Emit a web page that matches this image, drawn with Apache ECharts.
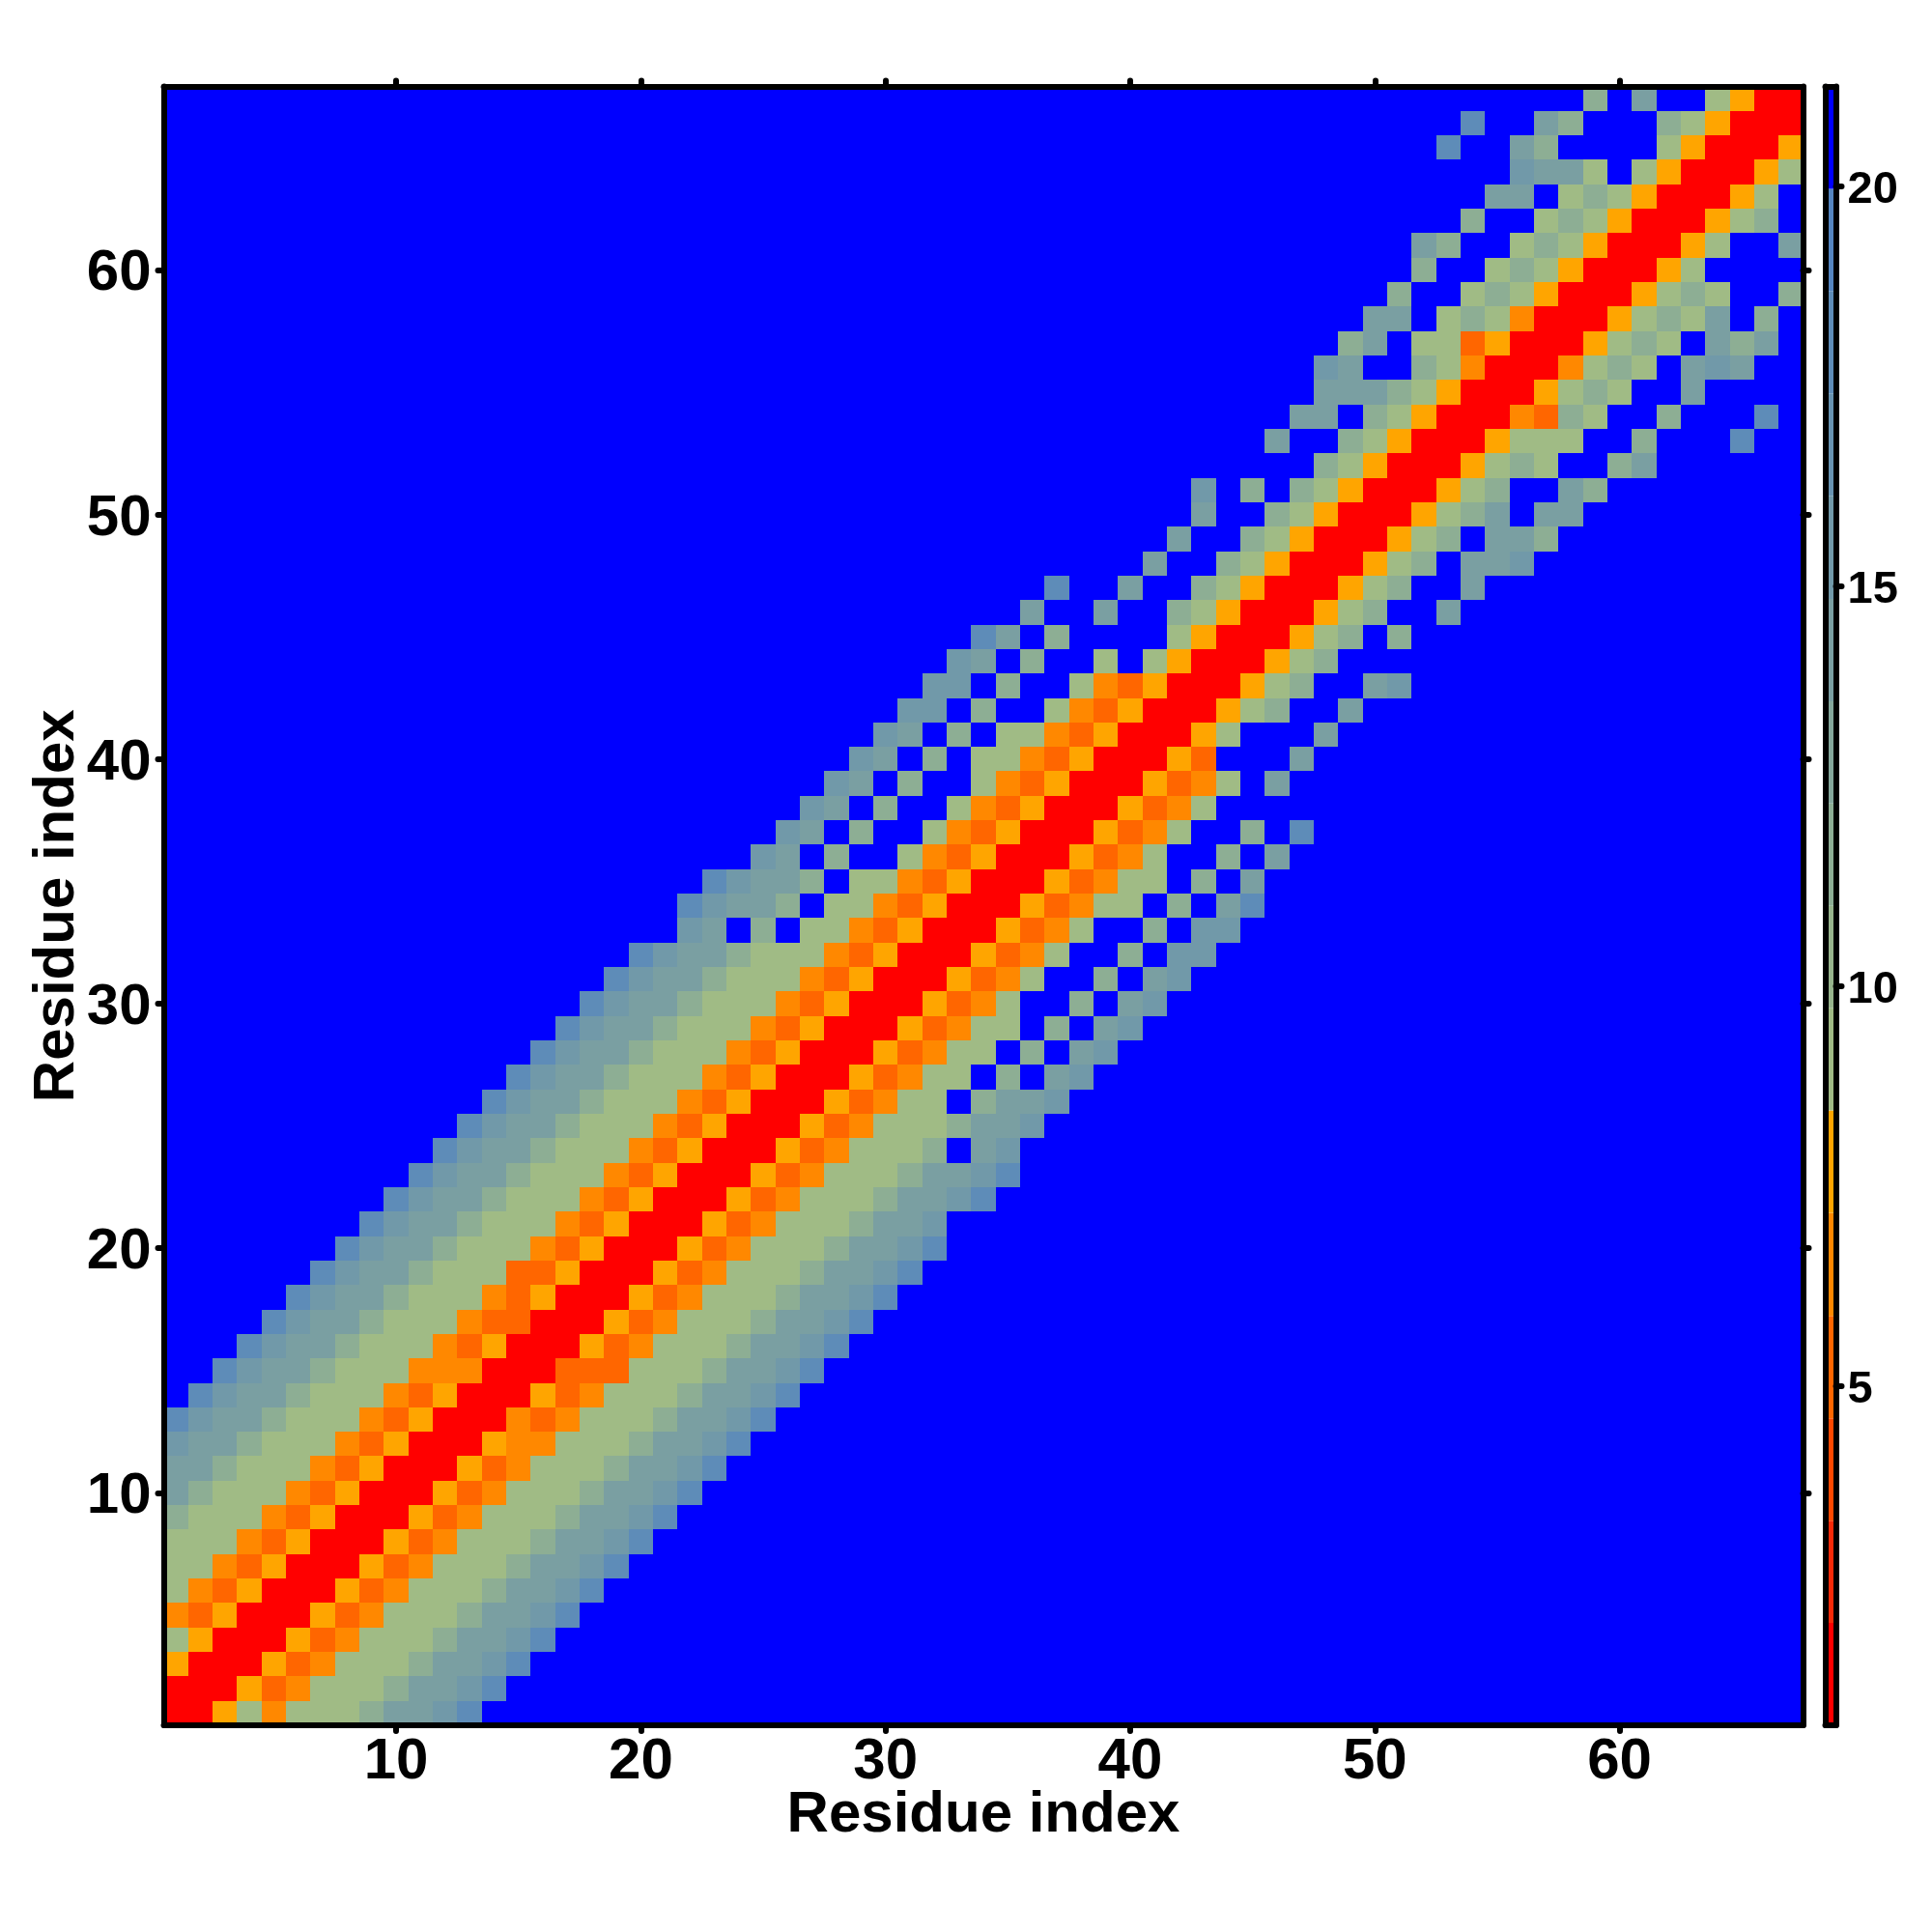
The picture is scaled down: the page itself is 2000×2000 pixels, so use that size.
<!DOCTYPE html>
<html>
<head>
<meta charset="utf-8">
<style>html,body{margin:0;padding:0;background:#fff}#c{width:2000px;height:2000px}</style>
<script src="https://cdn.jsdelivr.net/npm/echarts@6/dist/echarts.min.js"></script>
</head>
<body>
<div id="c"></div>
<script>
// Residue pair codes, one string per residue i: characters give d(i,i), d(i,i+1), ...
// Beyond the end of a string, and at '.', the pair is above the colour scale's last break.
const rowCodes = [
"RRAsOsssgmmtb","RRATOsssgmmtb","RRATOsssgmmtb","RRATOsssgmmtb","RRATOsssgmmtb",
"RRATOsssgmmtb","RRATOsssgmmtb","RRATOsssgmmtb","RRATOsssgmmtb","RRATOsssgmmtb",
"RRATOsssgmmtb","RRAOOsssgmmtb","RROTOsssgmmtb","RRATOsssgmmtb","RRTTTsssgmmtb",
"RRATOsssgmmtb","RRATOsssgmmtb","RRATOsssgmmtb","RRATOsssgmmtb","RRATOsssgmmtb",
"RRATOsssgmmt","RRATOsssgmmtb","RRATOsssgmmtb","RRATOsssg.mt","RRATOsssgmmt",
"RRATOss.gmmt","RRATOss.g.mt","RRATOss.g.mt","RRATOss.g.mt","RRATOs..g.mt",
"RRATOs..g.mt","RRATOs..g.tt","RRATOs..g.tt","RRATOss.g.mb","RRATOss.g.m",
"RRATOs..g.m","RRATOs..g.b","RRATOs","RRATOs.m","RRAT...m",
"RRAs...m","RRAsg..m","RRAsg..mt","RRAsg","RRAsg.g",
"RRAsg..m","RRAsg..m","RRAsg.mmt","RRAsg.mmg","RRAsgm.mm",
"RRAsg..mg","RRAsgs..gm","RRAsss..g...b","RROTgs..g...b","RRAsgs..m",
"RROsgs.mtm","RRAsgs.mgm","RRAsgsm.g","RRAsgs..g","RRAs",
"RRAs..m","RRAsg","RRAs","RRAs","RRA",
"RR","R"
];
const residues = rowCodes.map((_, i) => String(i + 1));
const tickValues = [10, 20, 30, 40, 50, 60];
const barTicks = [5, 10, 15, 20];
const levelEdges = [0.75,2.03,3.31,4.59,5.87,7.16,8.44,9.72,11,12.28,13.56,14.84,16.13,17.41,18.69,19.97,21.25];
const levelColors = ["#ff0000","#f92a08","#ff4800","#ff6600","#ff8800","#ffa500",
  "#a0bb85","#97b48c","#8dae94","#84a79b","#7a9fa2","#7199a9","#6893b1","#5e8cb8","#5585c0","#0000ff"];
const codeLevel = {R:0,T:3,O:4,A:5,s:6,g:8,m:10,t:11,b:13,".":15};
const FONT = '"Liberation Sans", Arial, sans-serif';

const levelValue = l => (levelEdges[l] + levelEdges[l + 1]) / 2;
const cells = [];
const n = rowCodes.length;
for (let i = 0; i < n; i++) for (let j = 0; j < n; j++) {
  const a = Math.min(i, j), off = Math.abs(i - j);
  const code = rowCodes[a][off] || ".";
  cells.push([i, j, levelValue(codeLevel[code])]);
}
const isTick = (idx, val) => tickValues.includes(+val);
const frame = {show:true, onZero:false, lineStyle:{color:"#000", width:6, cap:"round"}};
const tick = {show:true, length:6, interval:isTick, alignWithLabel:true, lineStyle:{color:"#000", width:6, cap:"round"}};
const labelStyle = {color:"#000", fontFamily:FONT, fontWeight:"bold", fontSize:60};
const shifted = size => ({
  formatter:"{v|{value}}",
  rich:{v:{padding:[9,0,0,0], color:"#000", fontFamily:FONT, fontWeight:"bold", fontSize:size}}
});
const catAxis = (position, label, name, nameGap) => ({
  type:"category", gridIndex:0, data:residues, position, z:10, boundaryGap:true,
  axisLine:frame, axisTick:tick, splitLine:{show:false},
  axisLabel:label ? Object.assign({show:true, interval:isTick}, labelStyle, label) : {show:false},
  name:name || "", nameLocation:"middle", nameGap:nameGap || 0, nameMoveOverlap:false,
  nameTextStyle:{color:"#000", fontFamily:FONT, fontWeight:"bold", fontSize:60}
});
const barAxis = (position, extent, extra) => Object.assign({
  type:"value", gridIndex:1, min:extent[0], max:extent[1], position, z:10,
  axisLine:frame, axisTick:{show:false}, axisLabel:{show:false}, splitLine:{show:false}
}, extra || {});

const option = {
  animation:false,
  backgroundColor:"#fff",
  grid:[
    {left:169.5, top:89.5, width:1697, height:1696.5, containLabel:false},
    {left:1889.5, top:89.5, width:11, height:1696.5, containLabel:false}
  ],
  xAxis:[
    catAxis("bottom", {margin:8}, "Residue index", 63),
    catAxis("top"),
    barAxis("bottom", [0, 1]),
    barAxis("top", [0, 1])
  ],
  yAxis:[
    catAxis("left", Object.assign({margin:13}, shifted(60)), "Residue index", 80),
    catAxis("right"),
    barAxis("left", [0.75, 21.25]),
    barAxis("right", [0.75, 21.25], {
      axisTick:{show:true, length:6, customValues:barTicks, lineStyle:{color:"#000", width:6, cap:"round"}},
      axisLabel:Object.assign({show:true, customValues:barTicks, margin:12}, shifted(47))
    })
  ],
  visualMap:[{
    type:"piecewise", show:false, seriesIndex:0, dimension:2,
    pieces:levelColors.map((c, i) => ({gte:levelEdges[i], lt:levelEdges[i + 1], color:c}))
  }],
  series:[
    {type:"custom", xAxisIndex:0, yAxisIndex:0, data:cells, silent:true, z:2,
      encode:{x:0, y:1},
      renderItem:(params, api) => {
        const c = api.coord([api.value(0), api.value(1)]), s = api.size([1, 1]);
        const x0 = Math.round(c[0] - s[0] / 2), x1 = Math.round(c[0] + s[0] / 2);
        const y0 = Math.round(c[1] - s[1] / 2), y1 = Math.round(c[1] + s[1] / 2);
        return {type:"rect", shape:{x:x0, y:y0, width:x1 - x0, height:y1 - y0}, style:{fill:api.visual("color")}};
      }},
    {type:"custom", xAxisIndex:2, yAxisIndex:3, silent:true, z:3,
      data:levelColors.map((c, i) => [levelEdges[i], levelEdges[i + 1]]),
      encode:{y:[0, 1]},
      renderItem:(params, api) => {
        const a = api.coord([0, api.value(0)]), b = api.coord([1, api.value(1)]);
        return {type:"rect", shape:{x:a[0], y:b[1], width:b[0] - a[0], height:a[1] - b[1]}, style:{fill:levelColors[params.dataIndex]}};
      }}
  ]
};
const chart = echarts.init(document.getElementById("c"), null, {renderer:"canvas"});
chart.setOption(option);
</script>
</body>
</html>
